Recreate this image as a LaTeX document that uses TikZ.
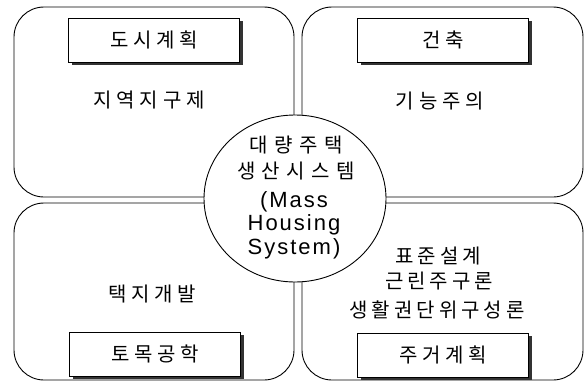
\documentclass[tikz,border=0pt]{standalone}
\usepackage{fontspec}
\usetikzlibrary{shapes.geometric,shadows}
\newfontfamily\krfont{Noto Sans CJK KR}
\newfontfamily\enfont{Liberation Sans}
\newdimen\lsp
\def\spaced#1#2{\lsp=#1\relax\spacedaux#2\relax}
\def\spacedaux#1#2{#1\ifx\relax#2\else\kern\lsp\expandafter\spacedaux\expandafter#2\fi}
\tikzset{
  panel/.style={draw, line width=0.9pt, rounded corners=30pt},
  labelbox/.style={draw, fill=white, line width=0.8pt, minimum width=171pt, minimum height=44pt, inner sep=0pt,
    drop shadow={shadow xshift=3pt, shadow yshift=-3pt, fill=black!80, opacity=1},
    font=\krfont\fontsize{20pt}{22pt}\selectfont},
  kr/.style={inner sep=0pt, font=\krfont\fontsize{20pt}{22pt}\selectfont},
  en/.style={inner sep=0pt, anchor=base, font=\enfont\fontsize{22pt}{24pt}\selectfont},
  hubshape/.style={ellipse, draw, fill=white, line width=0.9pt, minimum width=182pt, minimum height=167pt, inner sep=0pt}
}
\begin{document}
\begin{tikzpicture}[x=1pt,y=-1pt]
\useasboundingbox[fill=white] (0,0) rectangle (586,383);
% panels
\draw[panel] (14,7) rectangle (294,197);
\draw[panel] (302,7) rectangle (583,197);
\draw[panel] (14,203) rectangle (294,380);
\draw[panel] (302,203) rectangle (583,380);
% label boxes
\node[labelbox] (urban) at (154,40) {\spaced{4.5pt}{도시계획}};
\node[labelbox] (arch) at (443,40) {\spaced{4.5pt}{건축}};
\node[labelbox] (civil) at (155,354) {\spaced{4.5pt}{토목공학}};
\node[labelbox] (housing) at (443,355) {\spaced{4.5pt}{주거계획}};
% panel texts
\node[kr] (zoning) at (149,100) {\spaced{5pt}{지역지구제}};
\node[kr] (func) at (440,101) {\spaced{5pt}{기능주의}};
\node[kr] (land) at (152,294) {\spaced{4.5pt}{택지개발}};
\node[kr] (std) at (438,256) {\spaced{4pt}{표준설계}};
\node[kr] (neigh) at (439,281) {\spaced{4pt}{근린주구론}};
\node[kr] (unit) at (437,310) {\spaced{4pt}{생활권단위구성론}};
% hub
\node[hubshape] (hub) at (295,198.5) {};
\node[kr] (hub1) at (296,145) {\spaced{6.5pt}{대량주택}};
\node[kr] (hub2) at (296,171) {\spaced{6.5pt}{생산시스템}};
\node[en] (hub3) at (294,207) {\spaced{2pt}{(Mass}};
\node[en] (hub4) at (294,230.5) {\spaced{2pt}{Housing}};
\node[en] (hub5) at (294,254) {\spaced{2pt}{System)}};
\end{tikzpicture}
\end{document}
